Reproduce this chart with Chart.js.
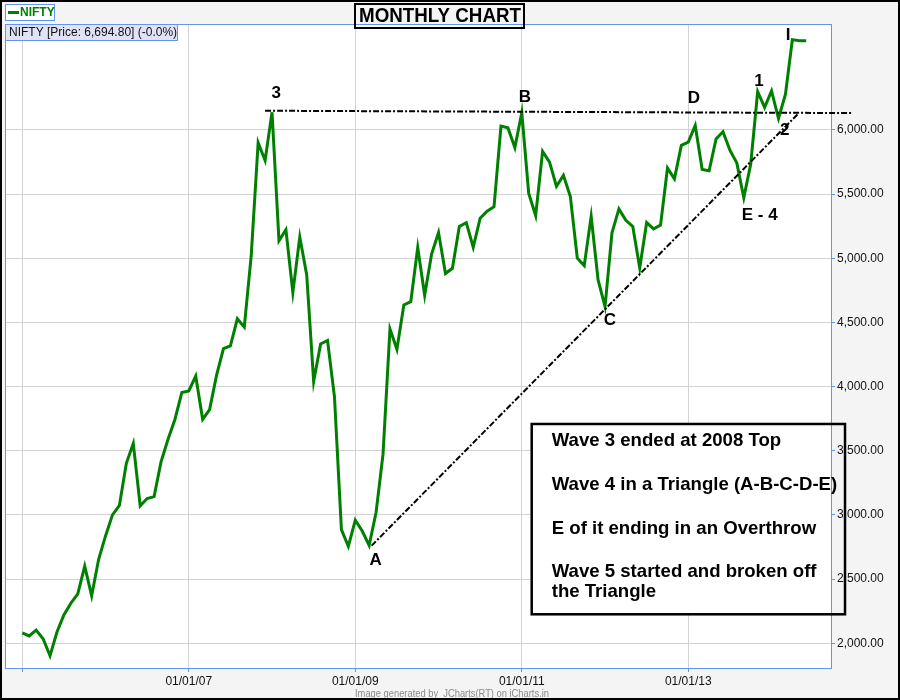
<!DOCTYPE html>
<html>
<head>
<meta charset="utf-8">
<title>NIFTY monthly chart</title>
<script src="https://cdn.jsdelivr.net/npm/chart.js@4.4.1/dist/chart.umd.min.js"></script>
<style>
  html, body { margin: 0; padding: 0; background: #fff; }
  canvas { display: block; }
</style>
</head>
<body>
<canvas id="chart" width="900" height="700"></canvas>
<script>
// monthly closes, one point per month starting Dec 2004 (month index 0)
const closes2004 = [2080.5];
const closes2005 = [2057.6, 2103.3, 2035.7, 1902.5, 2087.6, 2220.6, 2312.3, 2384.7, 2601.4, 2370.9, 2652.3, 2836.6];
const closes2006 = [3001.1, 3074.7, 3402.6, 3557.6, 3071.1, 3128.2, 3143.2, 3413.9, 3588.4, 3744.1, 3954.5, 3966.4];
const closes2007 = [4082.7, 3745.3, 3821.6, 4087.9, 4295.8, 4318.3, 4528.9, 4464.0, 5021.4, 5900.7, 5762.8, 6138.6];
const closes2008 = [5137.5, 5223.5, 4734.5, 5165.9, 4870.1, 4040.6, 4332.1, 4360.0, 3921.2, 2885.6, 2755.1, 2959.2];
const closes2009 = [2874.8, 2763.7, 3020.9, 3473.9, 4448.9, 4291.1, 4636.4, 4662.1, 5083.9, 4711.7, 5032.7, 5201.1];
const closes2010 = [4882.0, 4922.3, 5249.1, 5278.0, 5086.3, 5312.5, 5367.6, 5402.4, 6029.9, 6017.7, 5862.7, 6134.5];
const closes2011 = [5505.9, 5333.2, 5833.7, 5749.5, 5560.2, 5647.4, 5482.0, 5001.0, 4943.2, 5326.6, 4832.1, 4624.3];
const closes2012 = [5199.3, 5385.2, 5295.6, 5248.2, 4924.3, 5278.9, 5229.0, 5258.5, 5703.3, 5619.7, 5879.9, 5905.1];
const closes2013 = [6034.8, 5693.1, 5682.6, 5930.2, 5985.9, 5842.2, 5742.0, 5471.8, 5735.3, 6299.2, 6176.1, 6304.0];
const closes2014 = [6089.5, 6276.9, 6704.2, 6696.4, 6694.8];

// x ticks (month index) and their labels
const xTickMonths = [0, 24, 48, 72, 96];
const xTickLabels = ['', '01/01/07', '01/01/09', '01/01/11', '01/01/13'];
// y ticks
const yTicks = [2000, 2500, 3000, 3500, 4000, 4500, 5000, 5500, 6000];

// drawn-on annotations, in data units (month index, price)
const resistanceLine = [[35.0, 6150], [119.7, 6132]];
const supportLine = [[50.36, 2761], [111.8, 6125]];
const waveLabels = [
  { text: '3', x: 36.6, y: 6288 },
  { text: 'B', x: 72.46, y: 6257 },
  { text: 'D', x: 96.8, y: 6249 },
  { text: '1', x: 106.2, y: 6376 },
  { text: 'I', x: 110.4, y: 6740 },
  { text: '2', x: 109.9, y: 6000 },
  { text: 'E - 4', x: 106.3, y: 5338 },
  { text: 'C', x: 84.7, y: 4519 },
  { text: 'A', x: 50.94, y: 2649 }
];
const noteBox = { x1: 73.43, y1: 3709, x2: 118.59, y2: 2226 };
const noteLines = [
  'Wave 3 ended at 2008 Top',
  'Wave 4 in a Triangle (A-B-C-D-E)',
  'E of it ending in an Overthrow',
  'Wave 5 started and broken off',
  'the Triangle'
];

const closes = [].concat(closes2004, closes2005, closes2006, closes2007, closes2008,
  closes2009, closes2010, closes2011, closes2012, closes2013, closes2014);
const points = closes.map((v, i) => ({ x: i, y: v }));

const FONT = '"Liberation Sans", Arial, sans-serif';
const BLUE = '#6495ed';
const fmt = v => v.toLocaleString('en-US', { minimumFractionDigits: 2, maximumFractionDigits: 2 });

const decorations = {
  id: 'decorations',
  beforeDraw(chart) {
    const { ctx, chartArea: a } = chart;
    ctx.save();
    ctx.fillStyle = '#f4f4f4';
    ctx.fillRect(0, 0, chart.width, chart.height);
    ctx.fillStyle = '#fff';
    ctx.fillRect(a.left, a.top, a.right - a.left, a.bottom - a.top);
    ctx.restore();
  },
  afterDraw(chart) {
    const { ctx, chartArea: a } = chart;
    const xs = chart.scales.x, ys = chart.scales.y;
    const px = v => xs.getPixelForValue(v), py = v => ys.getPixelForValue(v);
    ctx.save();

    // plot frame
    ctx.strokeStyle = BLUE;
    ctx.lineWidth = 1;
    ctx.strokeRect(a.left + 0.5, a.top + 0.5, a.right - a.left, a.bottom - a.top);

    // dash-dot trend lines
    ctx.strokeStyle = '#000';
    ctx.lineWidth = 2;
    ctx.setLineDash([6, 2, 2, 2]);
    [resistanceLine, supportLine].forEach(l => {
      ctx.beginPath();
      ctx.moveTo(px(l[0][0]), py(l[0][1]));
      ctx.lineTo(px(l[1][0]), py(l[1][1]));
      ctx.stroke();
    });
    ctx.setLineDash([]);

    // wave labels
    ctx.fillStyle = '#000';
    ctx.font = 'bold 17px ' + FONT;
    ctx.textAlign = 'center';
    ctx.textBaseline = 'middle';
    waveLabels.forEach(l => ctx.fillText(l.text, px(l.x), py(l.y)));

    // note box
    const bx = px(noteBox.x1), by = py(noteBox.y1);
    const bw = px(noteBox.x2) - bx, bh = py(noteBox.y2) - by;
    ctx.fillStyle = '#fff';
    ctx.fillRect(bx, by, Math.min(bx + bw, a.right) - bx, bh);
    ctx.strokeStyle = '#000';
    ctx.lineWidth = 2.5;
    ctx.strokeRect(bx, by, bw, bh);
    ctx.fillStyle = '#000';
    ctx.font = 'bold 18.6px ' + FONT;
    ctx.textAlign = 'left';
    ctx.textBaseline = 'alphabetic';
    const offs = [22, 66, 110, 153, 173];
    noteLines.forEach((t, i) => ctx.fillText(t, bx + 20, by + offs[i]));

    // legend box
    ctx.lineWidth = 1;
    ctx.fillStyle = '#fff';
    ctx.fillRect(5.5, 4.5, 49, 16);
    ctx.strokeStyle = BLUE;
    ctx.strokeRect(5.5, 4.5, 49, 16);
    ctx.fillStyle = '#008000';
    ctx.fillRect(8, 11, 11, 3);
    ctx.font = 'bold 12px ' + FONT;
    ctx.textBaseline = 'middle';
    ctx.fillText('NIFTY', 20, 13);

    // price info box
    ctx.fillStyle = '#e2e2f6';
    ctx.fillRect(5.5, 24.5, 172, 16);
    ctx.strokeRect(5.5, 24.5, 172, 16);
    ctx.fillStyle = '#111';
    ctx.font = '12px ' + FONT;
    ctx.fillText('NIFTY [Price: ' + fmt(closes[closes.length - 1]) + '] (-0.0%)', 9, 33);

    // title
    ctx.strokeStyle = '#000';
    ctx.lineWidth = 2;
    ctx.strokeRect(355, 4, 169, 24);
    ctx.fillStyle = '#000';
    ctx.font = 'bold 20px ' + FONT;
    ctx.textAlign = 'center';
    ctx.fillText('MONTHLY CHART', 440, 16, 162);

    // footer
    ctx.fillStyle = '#8a8a8a';
    ctx.font = '11px ' + FONT;
    ctx.fillText('Image generated by  JCharts(RT) on iCharts.in', 452, 694, 194);

    // outer border
    ctx.strokeStyle = '#000';
    ctx.lineWidth = 2;
    ctx.strokeRect(1, 1, chart.width - 2, chart.height - 2);
    ctx.restore();
  }
};

new Chart(document.getElementById('chart'), {
  type: 'line',
  data: {
    datasets: [{
      label: 'NIFTY',
      data: points,
      borderColor: '#008000',
      borderWidth: 3,
      pointRadius: 0,
      tension: 0,
      fill: false
    }]
  },
  options: {
    responsive: false,
    animation: false,
    devicePixelRatio: 1,
    layout: { padding: { left: 5, top: 24, right: 0, bottom: 0 } },
    plugins: {
      legend: { display: false },
      title: { display: false },
      tooltip: { enabled: false }
    },
    scales: {
      x: {
        type: 'linear',
        min: -2.49,
        max: 116.57,
        afterBuildTicks: s => { s.ticks = xTickMonths.map(v => ({ value: v })); },
        afterFit: s => { s.height = 32; },
        ticks: {
          callback: v => xTickLabels[xTickMonths.indexOf(v)],
          font: { family: FONT, size: 12 },
          color: '#111',
          maxRotation: 0,
          autoSkip: false,
          padding: 2
        },
        grid: { color: '#d3d3d3', tickColor: BLUE, tickLength: 4 },
        border: { color: BLUE }
      },
      y: {
        position: 'right',
        min: 1807.5,
        max: 6826,
        afterBuildTicks: s => { s.ticks = yTicks.map(v => ({ value: v })); },
        afterFit: s => { s.width = 69; },
        ticks: {
          callback: v => fmt(v),
          font: { family: FONT, size: 12 },
          color: '#111',
          padding: 2
        },
        grid: { color: '#d3d3d3', tickColor: BLUE, tickLength: 4 },
        border: { color: BLUE }
      }
    }
  },
  plugins: [decorations]
});
</script>
</body>
</html>
